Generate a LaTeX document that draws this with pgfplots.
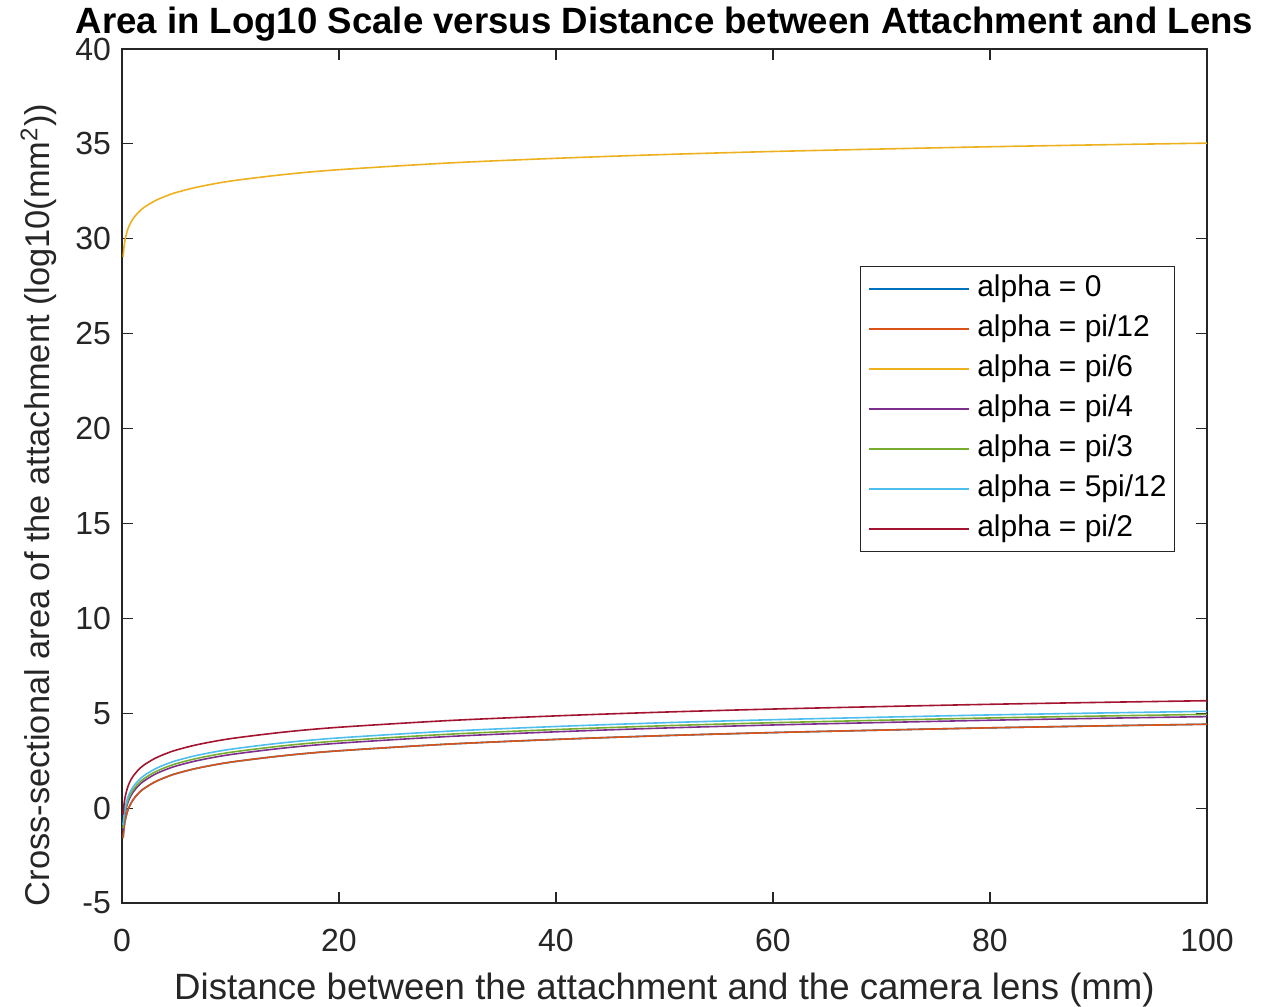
\documentclass[border=0pt]{standalone}
\usepackage{pgfplots}
\pgfplotsset{compat=1.18}
\usepackage{pgfplotstable}
\usepackage{fontspec}
\setmainfont{Liberation Sans}

\definecolor{mblue}{rgb}{0,0.447,0.741}
\definecolor{morange}{rgb}{0.85,0.325,0.098}
\definecolor{myellow}{rgb}{0.929,0.694,0.125}
\definecolor{mpurple}{rgb}{0.494,0.184,0.556}
\definecolor{mgreen}{rgb}{0.466,0.674,0.188}
\definecolor{mcyan}{rgb}{0.301,0.745,0.933}
\definecolor{mred}{rgb}{0.635,0.078,0.184}
\definecolor{axgray}{rgb}{0.15,0.15,0.15}

% x, then one column per alpha
\pgfplotstableread{
x    a0     a12    a6     a4     a3     a512   a2
0.1  -1.58  -1.58  29.04  -1.18  -1.06  -0.90  -0.34
0.2  -0.98  -0.98  29.64  -0.58  -0.46  -0.30   0.26
0.3  -0.63  -0.63  29.99  -0.23  -0.11   0.05   0.61
0.5  -0.18  -0.18  30.44   0.22   0.34   0.50   1.06
0.7   0.11   0.11  30.73   0.51   0.63   0.79   1.35
1     0.42   0.42  31.04   0.82   0.94   1.10   1.66
1.5   0.77   0.77  31.39   1.17   1.29   1.45   2.01
2     1.02   1.02  31.64   1.42   1.54   1.70   2.26
3     1.37   1.37  31.99   1.77   1.89   2.05   2.61
4     1.62   1.62  32.24   2.02   2.14   2.30   2.86
5     1.82   1.82  32.44   2.22   2.34   2.50   3.06
7     2.11   2.11  32.73   2.51   2.63   2.79   3.35
10    2.42   2.42  33.04   2.82   2.94   3.10   3.66
15    2.77   2.77  33.39   3.17   3.29   3.45   4.01
20    3.02   3.02  33.64   3.42   3.54   3.70   4.26
30    3.37   3.37  33.99   3.77   3.89   4.05   4.61
40    3.62   3.62  34.24   4.02   4.14   4.30   4.86
50    3.82   3.82  34.44   4.22   4.34   4.50   5.06
60    3.98   3.98  34.60   4.38   4.50   4.66   5.22
70    4.11   4.11  34.73   4.51   4.63   4.79   5.35
80    4.23   4.23  34.85   4.63   4.75   4.91   5.47
90    4.33   4.33  34.95   4.73   4.85   5.01   5.57
100   4.42   4.42  35.04   4.82   4.94   5.10   5.66
}\areadata

\begin{document}
\begin{tikzpicture}
\useasboundingbox (-61pt,-52pt) rectangle (572pt,451.5pt);
\begin{axis}[
    at={(0,0)}, anchor=south west,
    scale only axis,
    width=542.5pt, height=427pt,
    xmin=0, xmax=100, ymin=-5, ymax=40,
    xtick={0,20,...,100}, ytick={-5,0,...,40},
    tick align=inside,
    major tick length=5.5pt,
    axis line style={axgray, line width=0.6pt},
    every tick/.style={axgray, line width=0.6pt},
    tick label style={font=\fontsize{16}{18}\selectfont, text=axgray},
    xticklabel style={yshift=-9.5pt},
    yticklabel style={xshift=-2pt},
    /pgf/number format/assume math mode=true,
    xlabel={Distance between the attachment and the camera lens (mm)},
    ylabel={Cross-sectional area of the attachment (log10(mm\textsuperscript{2}))},
    xlabel style={font=\fontsize{18.3}{20}\selectfont, text=axgray,
        at={([yshift=-48.5pt]axis description cs:0.5,0)}, anchor=base},
    ylabel style={font=\fontsize{17.2}{20}\selectfont, text=axgray,
        at={([xshift=-36pt,yshift=-14.5pt]axis description cs:0,0.5)}, anchor=base},
    title={Area in Log10 Scale versus Distance between Attachment and Lens},
    title style={font=\bfseries\fontsize{18.3}{20}\selectfont,
        at={([yshift=1.5pt]axis description cs:0.5,1)}, anchor=base},
    legend style={at={(0.9705,0.746)}, anchor=north east, draw=axgray,
        font=\fontsize{15}{17}\selectfont, row sep=5.5pt,
        nodes={inner sep=0pt, text height=11pt, text depth=3.5pt},
        inner xsep=4pt, inner ysep=4pt},
    legend cell align=left,
    legend image code/.code={\draw[line width=0.8pt,#1] (0pt,0pt) -- (50pt,0pt);
        \path (53.5pt,0pt);},
    every axis plot/.append style={line width=0.8pt, smooth},
]
\addplot[mblue] table[x=x, y=a0] {\areadata};
\addplot[morange] table[x=x, y=a12] {\areadata};
\addplot[myellow] table[x=x, y=a6] {\areadata};
\addplot[mpurple] table[x=x, y=a4] {\areadata};
\addplot[mgreen] table[x=x, y=a3] {\areadata};
\addplot[mcyan] table[x=x, y=a512] {\areadata};
\addplot[mred] table[x=x, y=a2] {\areadata};
\legend{alpha = 0, alpha = pi/12, alpha = pi/6, alpha = pi/4, alpha = pi/3, alpha = 5pi/12, alpha = pi/2}
\end{axis}
\end{tikzpicture}
\end{document}
